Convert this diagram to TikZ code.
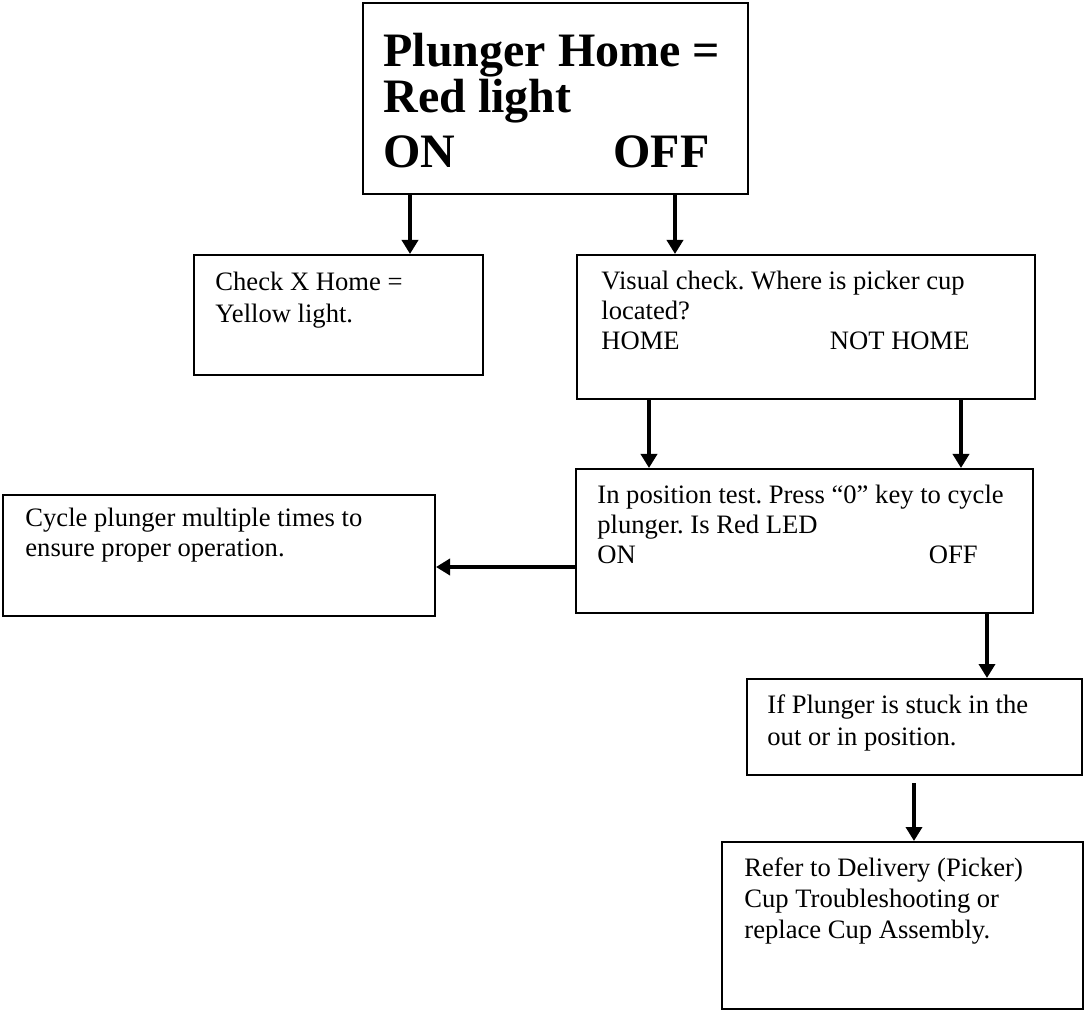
\documentclass[tikz,border=0pt]{standalone}
\usepackage{fontspec}
\setmainfont{Liberation Serif}
\usetikzlibrary{arrows.meta,fit}
\frenchspacing
\begin{document}
\begin{tikzpicture}[x=0.5pt,y=-0.5pt,
  box/.style={draw, line width=1pt, inner sep=0pt, rectangle},
  bigbox/.style={box, line width=1.3pt},
  arr/.style={line width=2pt, -{Triangle[width=8pt,length=7pt]}},
  txt/.style={inner sep=0pt, anchor=base west, font=\fontsize{13.3}{15}\selectfont},
  txtr/.style={txt, anchor=base east},
  btxt/.style={inner sep=0pt, anchor=base west, font=\fontsize{24}{25}\selectfont\bfseries},
  btxtr/.style={btxt, anchor=base east}]
\useasboundingbox (0,0) rectangle (1084,1011);

% boxes
\node[bigbox, fit={(363,3) (748,194)}] (top) {};
\node[box, fit={(194,255) (483,375)}] (check) {};
\node[box, fit={(577,255) (1035,399)}] (visual) {};
\node[box, fit={(576,469) (1033,613)}] (inpos) {};
\node[box, fit={(3,495) (435,616)}] (cycle) {};
\node[box, fit={(747,679) (1082,775)}] (ifbox) {};
\node[box, fit={(722,842) (1083,1009)}] (refer) {};

% texts
\node[btxt] (t1) at (383,67) {Plunger Home =};
\node[btxt] (t2) at (383,113) {Red light};
\node[btxt] (t3) at (383,168) {ON};
\node[btxtr] (t4) at (710,168) {OFF};

\node[txt] (c1) at (215,291) {Check X Home =};
\node[txt] (c2) at (215,322) {Yellow light.};

\node[txt] (v1) at (601,290) {Visual check. Where is picker cup};
\node[txt] (v2) at (601,320) {located?};
\node[txt] (v3) at (601,350) {HOME};
\node[txtr] (v4) at (970,350) {NOT HOME};

\node[txt] (p1) at (597,503) {In position test. Press “0” key to cycle};
\node[txt] (p2) at (597,533) {plunger. Is Red LED};
\node[txt] (p3) at (597,564) {ON};
\node[txtr] (p4) at (978,564) {OFF};

\node[txt] (y1) at (25,526) {Cycle plunger multiple times to};
\node[txt] (y2) at (25,556) {ensure proper operation.};

\node[txt] (i1) at (767,713) {If Plunger is stuck in the};
\node[txt] (i2) at (767,745) {out or in position.};

\node[txt] (r1) at (744,876) {Refer to Delivery (Picker)};
\node[txt] (r2) at (744,907) {Cup Troubleshooting or};
\node[txt] (r3) at (744,938) {replace Cup Assembly.};

% connector columns
\coordinate (xa) at (410,0);
\coordinate (xb) at (675,0);
\coordinate (xc) at (649,0);
\coordinate (xd) at (961,0);
\coordinate (ye) at (0,567);
\coordinate (xf) at (987,0);
\coordinate (xg) at (914,0);
\coordinate (gs) at (914,783);

\draw[arr] (top.south -| xa) -- (check.north -| xa);
\draw[arr] (top.south -| xb) -- (visual.north -| xb);
\draw[arr] (visual.south -| xc) -- (inpos.north -| xc);
\draw[arr] (visual.south -| xd) -- (inpos.north -| xd);
\draw[arr] (inpos.west |- ye) -- (cycle.east |- ye);
\draw[arr] (inpos.south -| xf) -- (ifbox.north -| xf);
\draw[arr] (gs) -- (refer.north -| xg);
\end{tikzpicture}
\end{document}
